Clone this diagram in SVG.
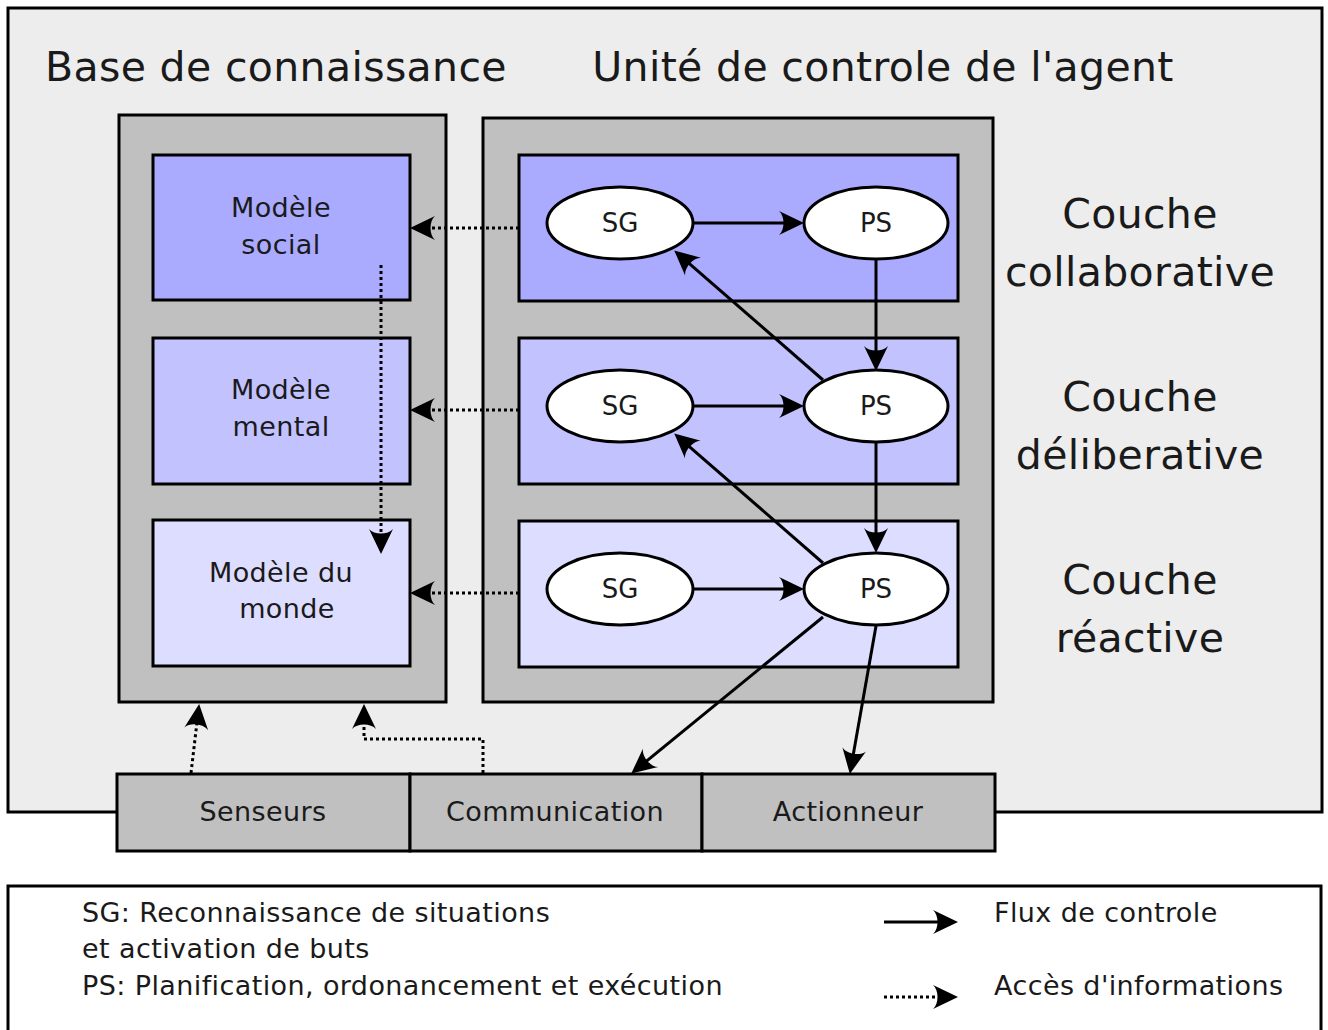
<svg xmlns="http://www.w3.org/2000/svg" width="1328" height="1030" viewBox="0 0 1328 1030">
  <style>
    text { font-family: "DejaVu Sans", "Liberation Sans", sans-serif; fill: #1a1a1a; }
    .title { font-size: 41px; letter-spacing: 0.35px; }
    .lbl { font-size: 27px; text-anchor: middle; letter-spacing: 0.4px; }
    .node { font-size: 26px; text-anchor: middle; }
    .leg { font-size: 27px; letter-spacing: 0.4px; }
    .box { stroke: #000; stroke-width: 3; }
    .gray { fill: #c0c0c0; }
    .c1 { fill: #aaaaff; }
    .c2 { fill: #c2c2ff; }
    .c3 { fill: #ddddff; }
    .ell { fill: #fff; stroke: #000; stroke-width: 3; }
    .flow { fill: none; stroke: #000; stroke-width: 3; marker-end: url(#head); }
    .info { fill: none; stroke: #000; stroke-width: 3; stroke-dasharray: 3 3; marker-end: url(#head); }
  </style>
  <defs>
    <marker id="head" markerUnits="userSpaceOnUse" markerWidth="26" markerHeight="26" viewBox="0 0 26 26" refX="16" refY="12" orient="auto" overflow="visible">
      <path d="M25,12 L0,0 C6,5 6,19 0,24 Z" fill="#000"/>
    </marker>
  </defs>

  <rect x="0" y="0" width="1328" height="1030" fill="#fff"/>

  <!-- agent frame -->
  <g id="agent">
    <rect x="8" y="8" width="1314" height="804" fill="#ededed" class="box"/>
    <text class="title" x="45" y="81">Base de connaissance</text>
    <text class="title" x="883" y="81" text-anchor="middle">Unité de controle de l'agent</text>
  </g>

  <!-- knowledge base -->
  <g id="knowledge-base">
    <rect x="119" y="115" width="327" height="587" class="box gray"/>
  </g>
  <g id="modele-social">
    <rect x="153" y="155" width="257" height="145" class="box c1"/>
    <text class="lbl" x="281" y="217">Modèle</text>
    <text class="lbl" x="281" y="254">social</text>
  </g>
  <g id="modele-mental">
    <rect x="153" y="338" width="257" height="146" class="box c2"/>
    <text class="lbl" x="281" y="399">Modèle</text>
    <text class="lbl" x="281" y="436">mental</text>
  </g>
  <g id="modele-monde">
    <rect x="153" y="520" width="257" height="146" class="box c3"/>
    <text class="lbl" x="281" y="582">Modèle du</text>
    <text class="lbl" x="287" y="618">monde</text>
  </g>

  <!-- control unit -->
  <g id="control-unit">
    <rect x="483" y="118" width="510" height="584" class="box gray"/>
  </g>
  <g id="couche-collaborative">
    <rect x="519" y="155" width="439" height="146" class="box c1"/>
    <text class="title" x="1140" y="228" text-anchor="middle">Couche</text>
    <text class="title" x="1140" y="286" text-anchor="middle">collaborative</text>
  </g>
  <g id="couche-deliberative">
    <rect x="519" y="338" width="439" height="146" class="box c2"/>
    <text class="title" x="1140" y="411" text-anchor="middle">Couche</text>
    <text class="title" x="1140" y="469" text-anchor="middle">déliberative</text>
  </g>
  <g id="couche-reactive">
    <rect x="519" y="521" width="439" height="146" class="box c3"/>
    <text class="title" x="1140" y="594" text-anchor="middle">Couche</text>
    <text class="title" x="1140" y="652" text-anchor="middle">réactive</text>
  </g>

  <g id="sg1"><ellipse cx="620" cy="223" rx="73" ry="36" class="ell"/><text class="node" x="620" y="232">SG</text></g>
  <g id="ps1"><ellipse cx="876" cy="223" rx="72" ry="36" class="ell"/><text class="node" x="876" y="232">PS</text></g>
  <g id="sg2"><ellipse cx="620" cy="406" rx="73" ry="36" class="ell"/><text class="node" x="620" y="415">SG</text></g>
  <g id="ps2"><ellipse cx="876" cy="406" rx="72" ry="36" class="ell"/><text class="node" x="876" y="415">PS</text></g>
  <g id="sg3"><ellipse cx="620" cy="589" rx="73" ry="36" class="ell"/><text class="node" x="620" y="598">SG</text></g>
  <g id="ps3"><ellipse cx="876" cy="589" rx="72" ry="36" class="ell"/><text class="node" x="876" y="598">PS</text></g>

  <!-- sensors / effectors bar -->
  <g id="senseurs">
    <rect x="117" y="774" width="293" height="77" class="box gray"/>
    <text class="lbl" x="263" y="821">Senseurs</text>
  </g>
  <g id="communication">
    <rect x="410" y="774" width="292" height="77" class="box gray"/>
    <text class="lbl" x="555" y="821">Communication</text>
  </g>
  <g id="actionneur">
    <rect x="702" y="774" width="293" height="77" class="box gray"/>
    <text class="lbl" x="848" y="821">Actionneur</text>
  </g>

  <!-- connectors -->
  <g id="connectors">
    <!-- control flow -->
    <line class="flow" x1="693" y1="223" x2="795" y2="223"/>
    <line class="flow" x1="693" y1="406" x2="795" y2="406"/>
    <line class="flow" x1="693" y1="589" x2="795" y2="589"/>
    <line class="flow" x1="876" y1="259" x2="876" y2="362"/>
    <line class="flow" x1="876" y1="442" x2="876" y2="544"/>
    <line class="flow" x1="823" y1="380" x2="681" y2="256.3"/>
    <line class="flow" x1="823" y1="563" x2="681" y2="439.3"/>
    <line class="flow" x1="823" y1="617" x2="638.2" y2="767.9"/>
    <line class="flow" x1="876" y1="626" x2="851.4" y2="765.1"/>
    <!-- information access -->
    <line class="info" x1="519" y1="228" x2="419" y2="228"/>
    <line class="info" x1="519" y1="410" x2="419" y2="410"/>
    <line class="info" x1="519" y1="593" x2="419" y2="593"/>
    <line class="info" x1="381" y1="265" x2="381" y2="545"/>
    <line class="info" x1="191" y1="773" x2="198.1" y2="712.9"/>
    <polyline class="info" points="483,773 483,739 364,739 364,713"/>
  </g>

  <!-- legend -->
  <g id="legend">
    <rect x="8" y="886" width="1313" height="160" fill="#fff" class="box"/>
    <text class="leg" x="82" y="922">SG: Reconnaissance de situations</text>
    <text class="leg" x="82" y="958">et activation de buts</text>
    <text class="leg" x="82" y="995">PS: Planification, ordonancement et exécution</text>
    <line class="flow" x1="884" y1="922" x2="949" y2="922"/>
    <line class="info" x1="884" y1="997" x2="949" y2="997"/>
    <text class="leg" x="994" y="922">Flux de controle</text>
    <text class="leg" x="994" y="995">Accès d'informations</text>
  </g>
</svg>
